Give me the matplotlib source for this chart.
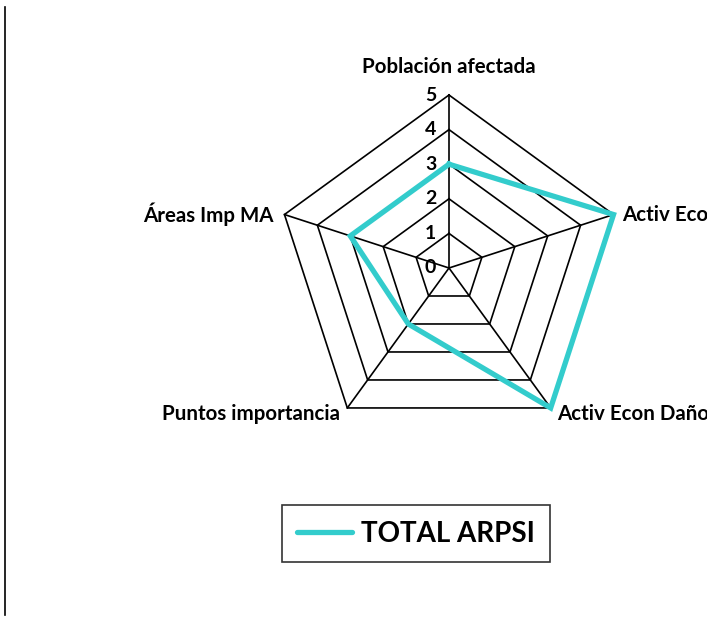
import numpy as np
import matplotlib.pyplot as plt

# data
categories = ['Población afectada', 'Activ Econ', 'Activ Econ Daños',
              'Puntos importancia', 'Áreas Imp MA']
total_arpsi = [3, 5, 5, 2, 3]
levels = [0, 1, 2, 3, 4, 5]
series_name = 'TOTAL ARPSI'

teal = '#33CCCC'
plt.rcParams['font.family'] = ['Lato', 'DejaVu Sans']

fig = plt.figure(figsize=(7.07, 6.19), dpi=100)
ax = fig.add_axes([0, 0, 1, 1])
ax.set_xlim(-12.977, 7.457)
ax.set_ylim(-10.145, 7.746)
ax.axis('off')

n = len(categories)
angles = np.deg2rad(90 - 360 / n * np.arange(n))
rmax = levels[-1]
fs = 14.8

# pentagon grid rings
for lv in levels[1:]:
    xs = lv * np.cos(np.append(angles, angles[0]))
    ys = lv * np.sin(np.append(angles, angles[0]))
    ax.plot(xs, ys, color='black', lw=1.2, zorder=1)

# spokes
for a in angles:
    ax.plot([0, rmax * np.cos(a)], [0, rmax * np.sin(a)], color='black', lw=1.2, zorder=1)

# radial tick labels
for lv in levels:
    ax.text(-0.37, lv, str(lv), ha='right', va='center', fontsize=14,
            fontweight='bold')

# series
vals = np.array(total_arpsi + total_arpsi[:1], dtype=float)
ang = np.append(angles, angles[0])
ax.plot(vals * np.cos(ang), vals * np.sin(ang), color=teal, lw=3.8,
        solid_joinstyle='miter', zorder=3)

# category labels
ax.text(0, rmax + 0.8, categories[0], ha='center', va='center', fontsize=fs,
        fontweight='bold')
ax.text(rmax * np.cos(angles[1]) + 0.25, rmax * np.sin(angles[1]), categories[1],
        ha='left', va='center', fontsize=fs, fontweight='bold')
ax.text(rmax * np.cos(angles[2]) + 0.2, rmax * np.sin(angles[2]) - 0.18, categories[2],
        ha='left', va='center', fontsize=fs, fontweight='bold')
ax.text(rmax * np.cos(angles[3]) - 0.2, rmax * np.sin(angles[3]) - 0.18, categories[3],
        ha='right', va='center', fontsize=fs, fontweight='bold')
ax.text(rmax * np.cos(angles[4]) - 0.3, rmax * np.sin(angles[4]), categories[4],
        ha='right', va='center', fontsize=fs, fontweight='bold')

# legend
leg = ax.legend([plt.Line2D([], [], color=teal, lw=3.8, solid_capstyle='round')],
                [series_name], loc='center', bbox_to_anchor=(0.588, 0.138),
                frameon=True, fancybox=False, edgecolor='black',
                prop={'weight': 'bold', 'size': 20}, handlelength=2.0,
                handletextpad=0.3, borderpad=0.55)
leg.get_frame().set_linewidth(1.2)

# left border line
fig.add_artist(plt.Line2D([0.0075, 0.0075], [0.007, 0.988], color='black', lw=1.2))

fig.savefig('out.png', dpi=100)
